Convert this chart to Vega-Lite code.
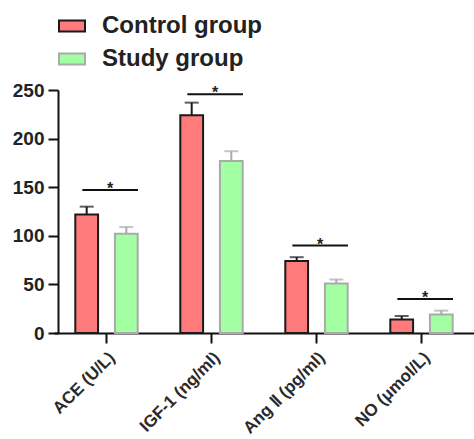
{
  "$schema": "https://vega.github.io/schema/vega-lite/v6.json",
  "width": 420,
  "height": 243,
  "autosize": "none",
  "padding": {"left": 54, "top": 90, "right": 0, "bottom": 106},
  "background": "white",
  "config": {
    "view": {"stroke": null},
    "font": "Liberation Sans"
  },
  "datasets": {
    "bars": [
      {"cat": "ACE (U/L)", "group": "Control group", "mean": 122, "upper": 130},
      {"cat": "ACE (U/L)", "group": "Study group", "mean": 102, "upper": 109},
      {"cat": "IGF-1 (ng/ml)", "group": "Control group", "mean": 224, "upper": 237},
      {"cat": "IGF-1 (ng/ml)", "group": "Study group", "mean": 177, "upper": 187},
      {"cat": "Ang Ⅱ (pg/ml)", "group": "Control group", "mean": 74, "upper": 78},
      {"cat": "Ang Ⅱ (pg/ml)", "group": "Study group", "mean": 51, "upper": 55},
      {"cat": "NO (μmol/L)", "group": "Control group", "mean": 14, "upper": 17.5},
      {"cat": "NO (μmol/L)", "group": "Study group", "mean": 19, "upper": 23}
    ],
    "sig": [
      {"cat": "ACE (U/L)", "y": 147, "label": "*"},
      {"cat": "IGF-1 (ng/ml)", "y": 245.5, "label": "*"},
      {"cat": "Ang Ⅱ (pg/ml)", "y": 90, "label": "*"},
      {"cat": "NO (μmol/L)", "y": 35, "label": "*"}
    ]
  },
  "layer": [
    {
      "data": {"name": "bars"},
      "mark": {"type": "bar", "strokeWidth": 2},
      "encoding": {
        "x": {
          "field": "cat", "type": "nominal", "sort": null,
          "scale": {"paddingInner": 0, "paddingOuter": 0},
          "axis": {
            "title": null, "labelAngle": -45, "labelFontSize": 17, "labelFontWeight": "bold", "labelColor": "#2a2a2a",
            "domainColor": "#111", "domainWidth": 2, "tickColor": "#111", "tickWidth": 2,
            "tickSize": 10, "labelPadding": 6
          }
        },
        "xOffset": {
          "field": "group", "type": "nominal",
          "scale": {"paddingInner": 0.425, "paddingOuter": 0.5375}
        },
        "y": {
          "field": "mean", "type": "quantitative",
          "scale": {"domain": [0, 250], "nice": false},
          "axis": {
            "title": null, "values": [0, 50, 100, 150, 200, 250], "grid": false,
            "labelFontSize": 19, "labelFontWeight": "bold", "labelColor": "#222", "offset": -4,
            "domainColor": "#111", "domainWidth": 2, "tickColor": "#111", "tickWidth": 2,
            "tickSize": 10, "labelPadding": 4
          }
        },
        "fill": {
          "field": "group", "type": "nominal",
          "scale": {"domain": ["Control group", "Study group"], "range": ["#FF7B7B", "#A2FFA2"]},
          "legend": {
            "title": null, "orient": "none", "legendX": 4, "legendY": -78,
            "padding": 0, "rowPadding": 7, "labelFontSize": 24, "labelFontWeight": "bold",
            "labelColor": "#222", "labelOffset": 16,
            "symbolType": "M-1,-0.43H1V0.43H-1Z", "symbolSize": 676, "symbolStrokeWidth": 2,
            "symbolOpacity": 1
          }
        },
        "stroke": {
          "field": "group", "type": "nominal",
          "scale": {"domain": ["Control group", "Study group"], "range": ["#1a1a1a", "#aaaaaa"]}
        }
      }
    },
    {
      "data": {"name": "bars"},
      "mark": {"type": "rule", "strokeWidth": 2},
      "encoding": {
        "x": {"field": "cat", "type": "nominal", "sort": null},
        "xOffset": {"field": "group", "type": "nominal"},
        "y": {"field": "mean", "type": "quantitative"},
        "y2": {"field": "upper"},
        "stroke": {"field": "group", "type": "nominal"}
      }
    },
    {
      "data": {"name": "bars"},
      "mark": {"type": "tick", "thickness": 2, "size": 14},
      "encoding": {
        "x": {"field": "cat", "type": "nominal", "sort": null},
        "xOffset": {"field": "group", "type": "nominal"},
        "y": {"field": "upper", "type": "quantitative"},
        "color": {"field": "group", "type": "nominal", "scale": {"domain": ["Control group", "Study group"], "range": ["#1a1a1a", "#aaaaaa"]}, "legend": null}
      }
    },
    {
      "data": {"name": "sig"},
      "mark": {"type": "rule", "strokeWidth": 2, "color": "#111"},
      "encoding": {
        "x": {"field": "cat", "type": "nominal", "sort": null, "bandPosition": 0.27},
        "x2": {"field": "cat", "bandPosition": 0.8},
        "y": {"field": "y", "type": "quantitative"}
      }
    },
    {
      "data": {"name": "sig"},
      "mark": {"type": "text", "fontSize": 16, "fontWeight": "bold", "color": "#222", "baseline": "alphabetic", "dy": 4},
      "encoding": {
        "x": {"field": "cat", "type": "nominal", "sort": null, "bandPosition": 0.535},
        "y": {"field": "y", "type": "quantitative"},
        "text": {"field": "label"}
      }
    }
  ]
}
